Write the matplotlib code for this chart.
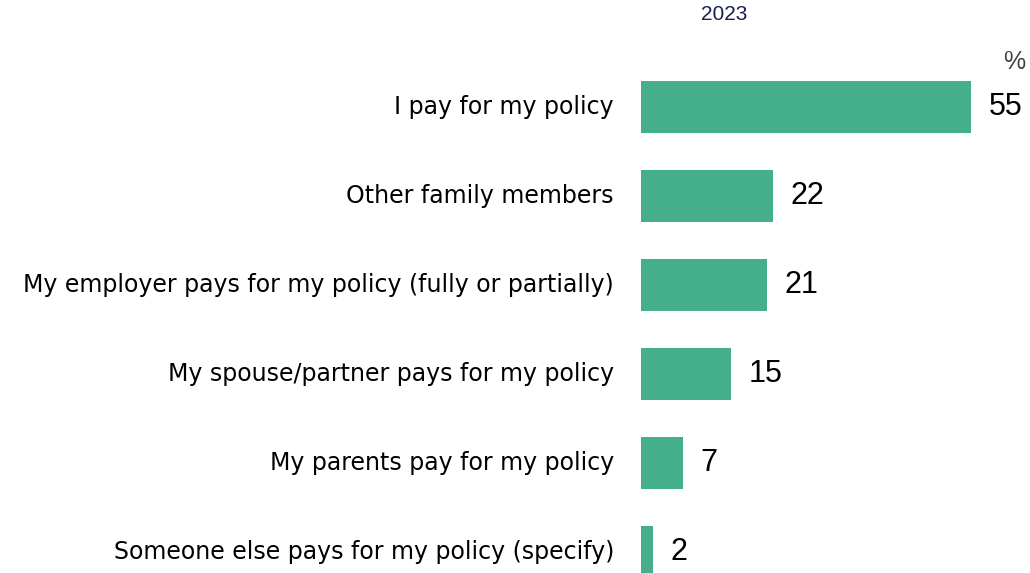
import matplotlib.pyplot as plt

# Donnees du graphique
categories = [
    "I pay for my policy",
    "Other family members",
    "My employer pays for my policy (fully or partially)",
    "My spouse/partner pays for my policy",
    "My parents pay for my policy",
    "Someone else pays for my policy (specify)",
]
values = [55, 22, 21, 15, 7, 2]
year_label = "2023"

W, H = 1030, 573
fig = plt.figure(figsize=(W / 100, H / 100), dpi=100)

# axes: gauche a x=641px, 6 px par unite, centres des barres a 107 + 89*i
ax = fig.add_axes([641 / W, 0, 1 - 641 / W, 1])
ax.set_xlim(0, (W - 641) / 6)
ax.set_ylim((H - 107) / 89, -107 / 89)

y = list(range(len(categories)))
ax.barh(y, values, height=0.585, color="#45ae8b")

for i, v in enumerate(values):
    ax.text(v + 2.9, i, str(v), va="center", ha="left", fontsize=22,
            family="Liberation Sans", color="black")

for i, c in enumerate(categories):
    ax.annotate(c, xy=(0, i), xycoords="data", xytext=(-27, 0),
                textcoords="offset pixels", ha="right", va="center",
                fontsize=17, family="DejaVu Sans", color="black",
                annotation_clip=False)

ax.axis("off")

fig.text(724 / W, 1 - 15 / H, year_label, ha="center", va="center",
         fontsize=15, color="#1b1f4f", family="Liberation Sans")
fig.text(1014 / W, 1 - 62 / H, "%", ha="center", va="center",
         fontsize=18, color="#404040", family="Liberation Sans")

fig.savefig("out.png", dpi=100)
